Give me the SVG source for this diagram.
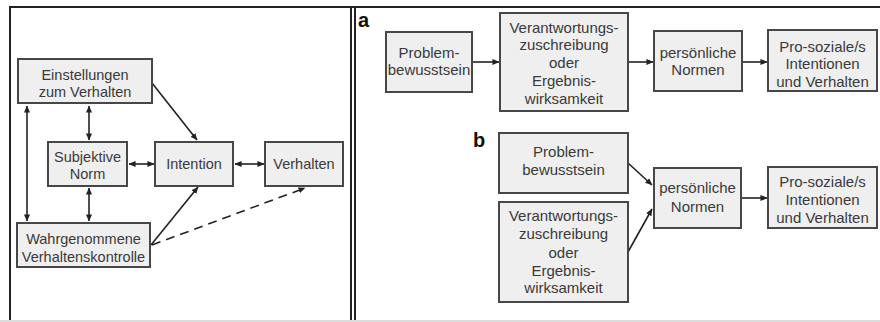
<svg xmlns="http://www.w3.org/2000/svg" width="880" height="322" viewBox="0 0 880 322">
<style>
.bg{fill:#fff}
.frame{stroke:#222;stroke-width:2;fill:none}
.box{fill:#efefef;stroke:#474747;stroke-width:2}
.t{font-family:"Liberation Sans",Arial,sans-serif;font-size:14.5px;fill:#3a3a3a;text-anchor:middle}
.tr{font-family:"Liberation Sans",Arial,sans-serif;font-size:15px;fill:#3a3a3a;text-anchor:middle}
.lbl{font-family:"Liberation Sans",Arial,sans-serif;font-weight:bold;font-size:20px;fill:#111}
.c{stroke:#222;stroke-width:1.6;fill:none}
.d{stroke:#222;stroke-width:1.6;fill:none;stroke-dasharray:9,6}
</style>
<defs>
<marker id="ah" viewBox="0 0 8 8" refX="7.5" refY="4" markerWidth="7" markerHeight="7" markerUnits="userSpaceOnUse" orient="auto-start-reverse">
<path d="M0,0.5 L8,4 L0,7.5 z" fill="#222"/>
</marker>
</defs>
<rect class="bg" x="0" y="0" width="880" height="322"/>
<g id="frame">
<line class="frame" x1="9" y1="7" x2="880" y2="7"/>
<line class="frame" x1="10" y1="7" x2="10" y2="321"/>
<line class="frame" x1="351" y1="7" x2="351" y2="321"/>
<line class="frame" x1="355" y1="7" x2="355" y2="321"/>
<line x1="0" y1="321" x2="880" y2="321" stroke="#dcdcdc" stroke-width="2"/>
</g>
<g id="connectors">
<line class="c" x1="152" y1="83" x2="197" y2="140" marker-end="url(#ah)"/>
<line class="c" x1="89" y1="106" x2="89" y2="140" marker-start="url(#ah)" marker-end="url(#ah)"/>
<line class="c" x1="27" y1="106" x2="27" y2="221" marker-start="url(#ah)" marker-end="url(#ah)"/>
<line class="c" x1="89" y1="188" x2="89" y2="221" marker-start="url(#ah)" marker-end="url(#ah)"/>
<line class="c" x1="129" y1="164" x2="154" y2="164" marker-start="url(#ah)" marker-end="url(#ah)"/>
<line class="c" x1="235" y1="164" x2="264" y2="164" marker-start="url(#ah)" marker-end="url(#ah)"/>
<line class="c" x1="151" y1="245" x2="198" y2="187" marker-end="url(#ah)"/>
<line class="d" x1="152" y1="245" x2="305" y2="188" marker-end="url(#ah)"/>
<line class="c" x1="472" y1="62" x2="499" y2="62" marker-end="url(#ah)"/>
<line class="c" x1="628" y1="62" x2="653" y2="62" marker-end="url(#ah)"/>
<line class="c" x1="742" y1="62" x2="767" y2="62" marker-end="url(#ah)"/>
<line class="c" x1="628" y1="163" x2="652" y2="185" marker-end="url(#ah)"/>
<line class="c" x1="628" y1="252" x2="652" y2="209" marker-end="url(#ah)"/>
<line class="c" x1="741" y1="198" x2="767" y2="198" marker-end="url(#ah)"/>
</g>
<g id="einstellungen"><rect class="box" x="18" y="59" width="134" height="44"/><text class="t" x="85" y="80">Einstellungen</text><text class="t" x="85" y="97">zum Verhalten</text></g>
<g id="subjektive-norm"><rect class="box" x="48" y="142" width="79" height="44"/><text class="t" x="87.5" y="162">Subjektive</text><text class="t" x="87.5" y="179">Norm</text></g>
<g id="intention"><rect class="box" x="155" y="142" width="78" height="44"/><text class="t" x="194" y="169">Intention</text></g>
<g id="verhalten"><rect class="box" x="265" y="142" width="78" height="44"/><text class="t" x="304" y="169">Verhalten</text></g>
<g id="wahrgenommene"><rect class="box" x="17" y="223" width="133" height="44"/><text class="t" x="83.5" y="244">Wahrgenommene</text><text class="t" x="83.5" y="262">Verhaltenskontrolle</text></g>
<g id="label-a"><text class="lbl" x="358" y="27">a</text></g>
<g id="a-problem"><rect class="box" x="386" y="32" width="86" height="60"/><text class="tr" x="429" y="58">Problem-</text><text class="tr" x="429" y="75">bewusstsein</text></g>
<g id="a-verantwortung"><rect class="box" x="500" y="13" width="128" height="98"/><text class="tr" x="564" y="33">Verantwortungs-</text><text class="tr" x="564" y="50">zuschreibung</text><text class="tr" x="564" y="68">oder</text><text class="tr" x="564" y="86">Ergebnis-</text><text class="tr" x="564" y="104">wirksamkeit</text></g>
<g id="a-normen"><rect class="box" x="654" y="31" width="88" height="60"/><text class="tr" x="698" y="58">persönliche</text><text class="tr" x="698" y="75">Normen</text></g>
<g id="a-prosozial"><rect class="box" x="768" y="30" width="109" height="61"/><text class="tr" x="822.5" y="52">Pro-soziale/s</text><text class="tr" x="822.5" y="69">Intentionen</text><text class="tr" x="822.5" y="87">und Verhalten</text></g>
<g id="label-b"><text class="lbl" x="473" y="147">b</text></g>
<g id="b-problem"><rect class="box" x="499" y="133" width="129" height="60"/><text class="tr" x="563.5" y="157">Problem-</text><text class="tr" x="563.5" y="175">bewusstsein</text></g>
<g id="b-verantwortung"><rect class="box" x="499" y="202" width="129" height="100"/><text class="tr" x="563.5" y="221">Verantwortungs-</text><text class="tr" x="563.5" y="239">zuschreibung</text><text class="tr" x="563.5" y="258">oder</text><text class="tr" x="563.5" y="276">Ergebnis-</text><text class="tr" x="563.5" y="293">wirksamkeit</text></g>
<g id="b-normen"><rect class="box" x="654" y="168" width="87" height="60"/><text class="tr" x="697.5" y="193">persönliche</text><text class="tr" x="697.5" y="212">Normen</text></g>
<g id="b-prosozial"><rect class="box" x="768" y="167" width="109" height="61"/><text class="tr" x="822.5" y="187">Pro-soziale/s</text><text class="tr" x="822.5" y="205">Intentionen</text><text class="tr" x="822.5" y="223">und Verhalten</text></g>
</svg>
